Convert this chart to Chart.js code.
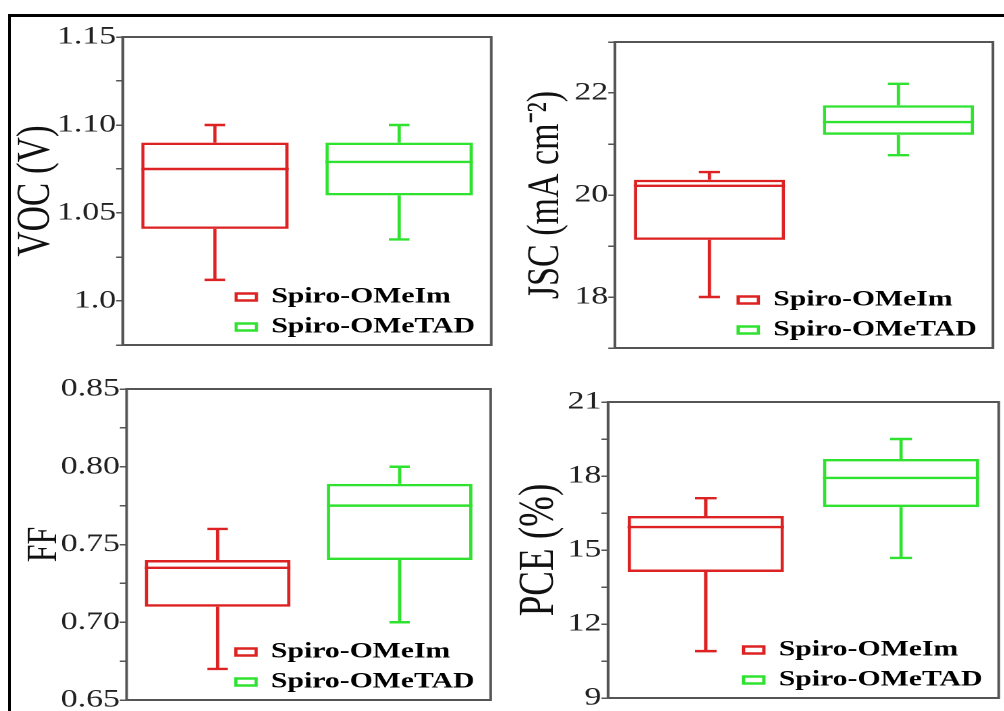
<!DOCTYPE html>
<html>
<head>
<meta charset="utf-8">
<title>Spiro-OMeIm vs Spiro-OMeTAD</title>
<script src="https://cdn.jsdelivr.net/npm/chart.js@4.4.0/dist/chart.umd.min.js"></script>
<style>
  html, body { margin: 0; padding: 0; background: #fff; }
  body { width: 1004px; height: 711px; position: relative; overflow: hidden; }
  #frame { position: absolute; left: 8px; top: 14px; right: -10px; bottom: -10px;
           border-top: 3px solid #000; border-left: 3px solid #000; }
  .panel { position: absolute; transform-origin: 0 0; }
</style>
</head>
<body>
<div id="frame"></div>
<div class="panel" id="p1"><canvas id="vocChart"></canvas></div>
<div class="panel" id="p2"><canvas id="jscChart"></canvas></div>
<div class="panel" id="p3"><canvas id="ffChart"></canvas></div>
<div class="panel" id="p4"><canvas id="pceChart"></canvas></div>
<script>
const groups = ['Spiro-OMeIm', 'Spiro-OMeTAD'];
const groupColors = ['#dc2222', '#2fe22f'];

// VOC (V)
const vocMin = [1.012, 1.035];
const vocQ1 = [1.041, 1.060];
const vocMedian = [1.075, 1.079];
const vocQ3 = [1.090, 1.090];
const vocMax = [1.100, 1.100];
const vocTicks = [1.00, 1.05, 1.10, 1.15];
const vocTickLabels = ['1.0', '1.05', '1.10', '1.15'];

// JSC (mA cm-2)
const jscMin = [18.0, 20.78];
const jscQ1 = [19.12, 21.18];
const jscMedian = [20.18, 21.43];
const jscQ3 = [20.30, 21.76];
const jscMax = [20.45, 22.18];
const jscTicks = [18, 20, 22];
const jscTickLabels = ['18', '20', '22'];

// FF
const ffMin = [0.670, 0.700];
const ffQ1 = [0.710, 0.740];
const ffMedian = [0.735, 0.775];
const ffQ3 = [0.740, 0.789];
const ffMax = [0.760, 0.800];
const ffTicks = [0.65, 0.70, 0.75, 0.80, 0.85];
const ffTickLabels = ['0.65', '0.70', '0.75', '0.80', '0.85'];

// PCE (%)
const pceMin = [10.9, 14.68];
const pceQ1 = [14.11, 16.74];
const pceMedian = [15.93, 17.92];
const pceQ3 = [16.38, 18.69];
const pceMax = [17.1, 19.5];
const pceTicks = [9, 12, 15, 18, 21];
const pceTickLabels = ['9', '12', '15', '18', '21'];

// the original figure is stretched sideways, so every panel is scaled in x
const S = 1.35;
const serif = '"Liberation Serif", "Times New Roman", serif';

// median line + whiskers on top of the floating bars (the boxes)
const whiskerPlugin = {
    id: 'whiskers',
    afterDatasetsDraw(chart) {
        const ctx = chart.ctx;
        const y = chart.scales.y;
        chart.data.datasets.forEach((ds, i) => {
            const meta = chart.getDatasetMeta(i);
            meta.data.forEach((bar, j) => {
                if (ds.data[j] == null) return;
                const half = bar.width / 2;
                const cap = bar.width * 0.07;
                const yLo = y.getPixelForValue(ds.whiskerLow[j]);
                const yHi = y.getPixelForValue(ds.whiskerHigh[j]);
                const yMed = y.getPixelForValue(ds.median[j]);
                const yQ1 = y.getPixelForValue(ds.data[j][0]);
                const yQ3 = y.getPixelForValue(ds.data[j][1]);
                ctx.save();
                ctx.strokeStyle = ds.borderColor;
                ctx.lineWidth = ds.borderWidth;
                ctx.beginPath();
                ctx.moveTo(bar.x - half, yMed); ctx.lineTo(bar.x + half, yMed);
                ctx.moveTo(bar.x, yQ3); ctx.lineTo(bar.x, yHi);
                ctx.moveTo(bar.x - cap, yHi); ctx.lineTo(bar.x + cap, yHi);
                ctx.moveTo(bar.x, yQ1); ctx.lineTo(bar.x, yLo);
                ctx.moveTo(bar.x - cap, yLo); ctx.lineTo(bar.x + cap, yLo);
                ctx.stroke();
                ctx.restore();
            });
        });
    }
};

// box round the plot area
const framePlugin = {
    id: 'frame',
    afterDraw(chart) {
        const ca = chart.chartArea;
        const ctx = chart.ctx;
        ctx.save();
        ctx.strokeStyle = '#555';
        ctx.lineWidth = 2;
        ctx.strokeRect(ca.left, ca.top, ca.right - ca.left, ca.bottom - ca.top);
        ctx.restore();
    }
};

// legend sits in the lower right corner inside the plot
const legendCorner = {
    id: 'legendCorner',
    afterUpdate(chart) {
        const lg = chart.legend;
        const ca = chart.chartArea;
        lg.left = ca.right - lg.width - 2;
        lg.right = lg.left + lg.width;
        lg.top = ca.top;
        lg.bottom = ca.bottom + 1;
        lg.height = lg.bottom - lg.top;
        lg.adjustHitBoxes();
    }
};

function makePanel(divId, canvasId, p) {
    const padT = 22, padB = 22, padR = 3;
    const boxLeft = p.titleX - S * p.titleSize / 2;
    const axisW = (p.plotL - boxLeft) / S;
    const div = document.getElementById(divId);
    div.style.left = boxLeft + 'px';
    div.style.top = (p.plotT - padT) + 'px';
    div.style.width = (axisW + (p.plotR - p.plotL) / S + padR) + 'px';
    div.style.height = (p.plotB - p.plotT + padT + padB) + 'px';
    div.style.transform = 'scaleX(' + S + ')';

    const datasets = groups.map((g, k) => ({
        label: g,
        data: groups.map((_, j) => j === k ? [p.q1[j], p.q3[j]] : null),
        median: p.median,
        whiskerLow: p.min,
        whiskerHigh: p.max,
        backgroundColor: 'rgba(255,255,255,0)',
        borderColor: groupColors[k],
        borderWidth: 2.4,
        borderSkipped: false,
        grouped: false,
        barPercentage: 0.8,
        categoryPercentage: 1.0
    }));

    return new Chart(canvasId, {
        type: 'bar',
        data: { labels: groups, datasets: datasets },
        plugins: [whiskerPlugin, framePlugin, legendCorner],
        options: {
            responsive: true,
            maintainAspectRatio: false,
            animation: false,
            devicePixelRatio: 2,
            layout: { padding: { left: 0, right: padR, top: padT, bottom: padB } },
            plugins: {
                tooltip: { enabled: false },
                legend: {
                    position: 'chartArea',
                    align: 'end',
                    labels: {
                        font: { family: serif, size: 22, weight: 'bold' },
                        color: '#000',
                        boxWidth: 15,
                        boxHeight: 7,
                        padding: 8
                    }
                }
            },
            scales: {
                x: { display: false },
                y: {
                    min: p.yMin,
                    max: p.yMax,
                    afterFit: (scale) => { scale.width = axisW; },
                    border: { display: false },
                    grid: {
                        display: true,
                        drawOnChartArea: false,
                        drawTicks: true,
                        tickLength: 5,
                        color: '#555',
                        lineWidth: 1.5
                    },
                    ticks: {
                        stepSize: p.step,
                        autoSkip: false,
                        padding: 0,
                        color: '#222',
                        font: { family: serif, size: 25 },
                        callback: (value) => {
                            const k = p.ticks.findIndex(t => Math.abs(t - value) < 1e-6);
                            return k >= 0 ? p.tickLabels[k] : '';
                        }
                    },
                    title: {
                        display: true,
                        text: p.title,
                        color: '#111',
                        padding: 0,
                        font: { family: serif, size: p.titleSize, lineHeight: 1 }
                    }
                }
            }
        }
    });
}

makePanel('p1', 'vocChart', {
    plotL: 123, plotR: 491, plotT: 37, plotB: 345, titleX: 37,
    title: 'VOC (V)', titleSize: 35,
    yMin: 0.975, yMax: 1.15, step: 0.025,
    ticks: vocTicks, tickLabels: vocTickLabels,
    min: vocMin, q1: vocQ1, median: vocMedian, q3: vocQ3, max: vocMax
});

makePanel('p2', 'jscChart', {
    plotL: 615, plotR: 993, plotT: 42, plotB: 348, titleX: 546,
    title: 'JSC (mA cm⁻²)', titleSize: 34,
    yMin: 17, yMax: 23, step: 1,
    ticks: jscTicks, tickLabels: jscTickLabels,
    min: jscMin, q1: jscQ1, median: jscMedian, q3: jscQ3, max: jscMax
});

makePanel('p3', 'ffChart', {
    plotL: 127, plotR: 491, plotT: 389, plotB: 700, titleX: 45,
    title: 'FF', titleSize: 32,
    yMin: 0.65, yMax: 0.85, step: 0.025,
    ticks: ffTicks, tickLabels: ffTickLabels,
    min: ffMin, q1: ffQ1, median: ffMedian, q3: ffQ3, max: ffMax
});

makePanel('p4', 'pceChart', {
    plotL: 608, plotR: 998, plotT: 402, plotB: 698, titleX: 540,
    title: 'PCE (%)', titleSize: 37,
    yMin: 9, yMax: 21, step: 1.5,
    ticks: pceTicks, tickLabels: pceTickLabels,
    min: pceMin, q1: pceQ1, median: pceMedian, q3: pceQ3, max: pceMax
});
</script>
</body>
</html>
